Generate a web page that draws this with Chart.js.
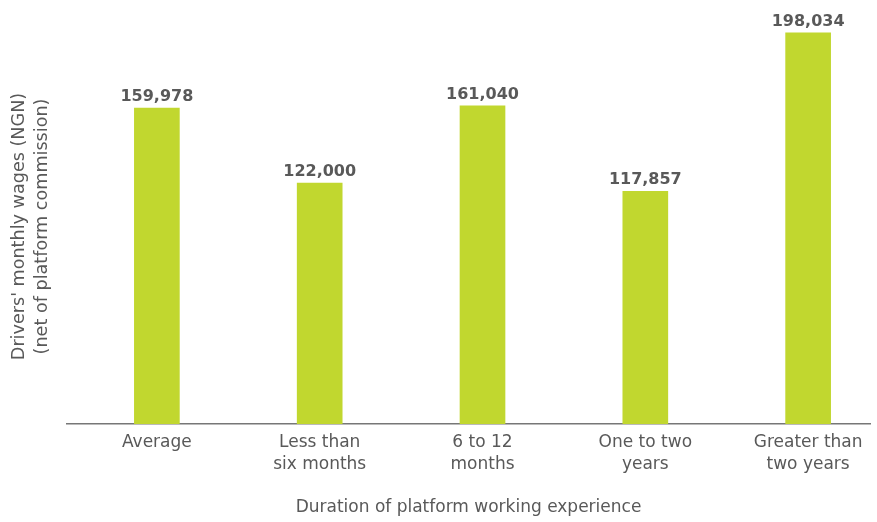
<!DOCTYPE html>
<html>
<head>
<meta charset="utf-8">
<script src="https://cdn.jsdelivr.net/npm/chart.js@4.4.1/dist/chart.umd.min.js"></script>
<style>
html,body{margin:0;padding:0;background:#fff;overflow:hidden;}
#wrap{width:877px;height:522px;position:relative;}
</style>
</head>
<body>
<div id="wrap"><canvas id="c" width="877" height="522"></canvas></div>
<script>
const categories = [
  ["Average"],
  ["Less than", "six months"],
  ["6 to 12", "months"],
  ["One to two", "years"],
  ["Greater than", "two years"]
];
const wages = [159978, 122000, 161040, 117857, 198034];
const yTitle = ["Drivers' monthly wages (NGN)", "(net of platform commission)"];
const xTitle = "Duration of platform working experience";

const FONT = "'DejaVu Sans', sans-serif";
const TXT = "#595959";
const BAR = "#c1d72f";

const valueLabels = {
  id: 'valueLabels',
  afterDatasetsDraw(chart) {
    const ctx = chart.ctx;
    const meta = chart.getDatasetMeta(0);
    ctx.save();
    ctx.font = "bold 16px " + FONT;
    ctx.fillStyle = TXT;
    ctx.textAlign = 'center';
    ctx.textBaseline = 'bottom';
    meta.data.forEach((bar, i) => {
      ctx.fillText(wages[i].toLocaleString('en-US'), bar.x, bar.y - 3);
    });
    ctx.restore();
  }
};

new Chart(document.getElementById('c'), {
  type: 'bar',
  data: {
    datasets: [{
      data: wages.map((v, i) => ({x: i, y: v})),
      backgroundColor: BAR,
      barThickness: 45,
      borderWidth: 0
    }]
  },
  options: {
    responsive: false,
    animation: false,
    layout: {padding: {left: 8, right: 7, top: 29, bottom: 4}},
    plugins: {legend: {display: false}, tooltip: {enabled: false}},
    scales: {
      x: {
        type: 'linear',
        min: -0.552,
        max: 4.38,
        offset: false,
        grid: {display: false, drawTicks: false},
        border: {display: true, color: '#777', width: 1.5},
        afterBuildTicks: s => { s.ticks = categories.map((c, i) => ({value: i})); },
        afterFit: s => { s.height = 94; },
        ticks: {
          padding: 7,
          autoSkip: false,
          maxRotation: 0,
          color: TXT,
          font: {family: FONT, size: 17, lineHeight: 1.33},
          callback: v => categories[v]
        },
        title: {
          display: true,
          text: xTitle,
          color: TXT,
          font: {family: FONT, size: 17},
          padding: {top: 0, bottom: 0}
        }
      },
      y: {
        min: 0,
        max: 200000,
        grid: {display: false, drawTicks: false},
        border: {display: false},
        ticks: {display: false},
        afterFit: s => { s.width = 59; },
        title: {
          display: true,
          text: yTitle,
          color: TXT,
          font: {family: FONT, size: 17.6, lineHeight: 1.3},
          padding: {top: 0, bottom: 0}
        }
      }
    }
  },
  plugins: [valueLabels]
});
</script>
</body>
</html>
